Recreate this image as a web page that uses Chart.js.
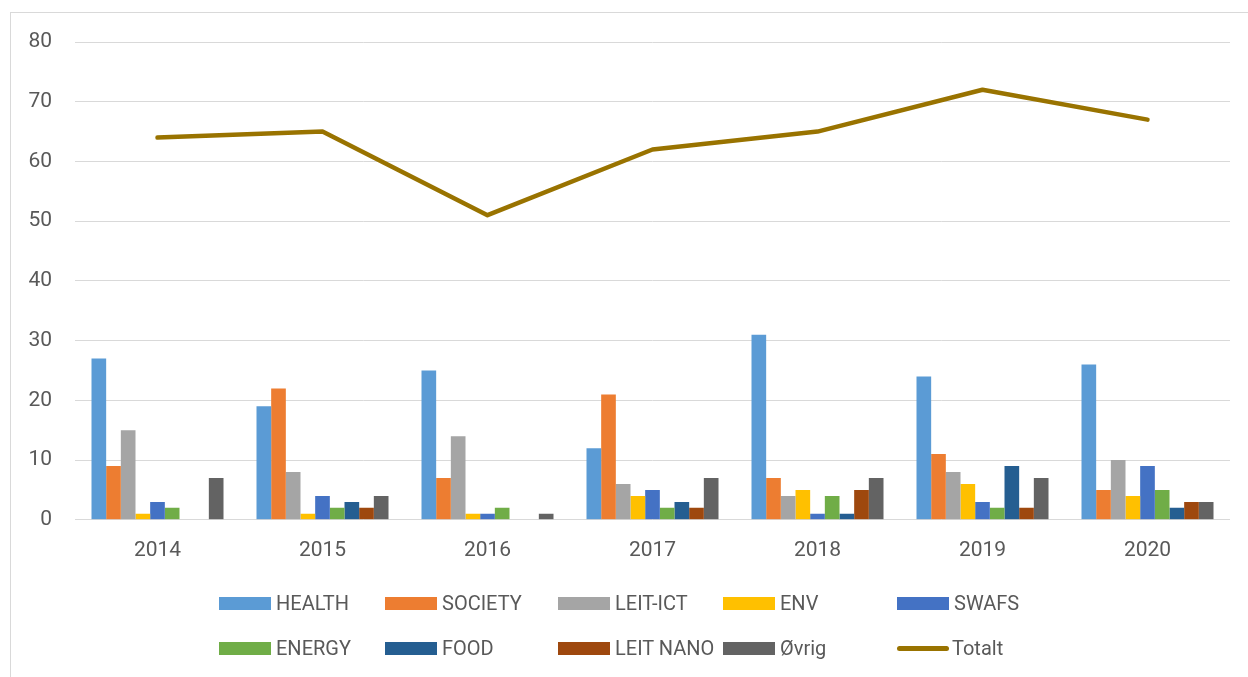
<!DOCTYPE html>
<html>
<head>
<meta charset="utf-8">
<script src="https://cdn.jsdelivr.net/npm/chart.js@4.4.1/dist/chart.umd.min.js"></script>
<style>
  html, body { margin: 0; padding: 0; background: #fff; }
  #wrap { position: relative; width: 1248px; height: 677px; overflow: hidden; }
  #frame { position: absolute; left: 10px; top: 12px; width: 1300px; height: 700px; border: 1px solid #d9d9d9; box-sizing: border-box; }
  canvas { position: absolute; left: 0; top: 0; }
  #legend { position: absolute; left: 0; top: 0; width: 1248px; height: 677px; font-family: Roboto, sans-serif; font-size: 20px; color: #595959; }
  .item { position: absolute; height: 24px; display: flex; align-items: center; white-space: nowrap; }
  .box { width: 52px; height: 13px; margin-right: 5px; }
  .ln { width: 52px; height: 5px; border-radius: 3px; margin-right: 3px; }
</style>
</head>
<body>
<div id="wrap">
  <div id="frame"></div>
  <canvas id="myChart" width="1248" height="677"></canvas>
  <div id="legend"></div>
</div>
<script>
// data
const years = ["2014", "2015", "2016", "2017", "2018", "2019", "2020"];
const health = [27, 19, 25, 12, 31, 24, 26];
const society = [9, 22, 7, 21, 7, 11, 5];
const leitIct = [15, 8, 14, 6, 4, 8, 10];
const env = [1, 1, 1, 4, 5, 6, 4];
const swafs = [3, 4, 1, 5, 1, 3, 9];
const energy = [2, 2, 2, 2, 4, 2, 5];
const food = [0, 3, 0, 3, 1, 9, 2];
const leitNano = [0, 2, 0, 2, 5, 2, 3];
const ovrig = [7, 4, 1, 7, 7, 7, 3];
const totalt = [64, 65, 51, 62, 65, 72, 67];
const yTicks = [0, 10, 20, 30, 40, 50, 60, 70, 80];

const barSeries = [
  ["HEALTH", health, "#5b9bd5"],
  ["SOCIETY", society, "#ed7d31"],
  ["LEIT-ICT", leitIct, "#a5a5a5"],
  ["ENV", env, "#ffc000"],
  ["SWAFS", swafs, "#4472c4"],
  ["ENERGY", energy, "#70ad47"],
  ["FOOD", food, "#255e91"],
  ["LEIT NANO", leitNano, "#9e480e"],
  ["Øvrig", ovrig, "#636363"],
];

const datasets = barSeries.map(s => ({
  type: "bar",
  label: s[0],
  data: s[1],
  backgroundColor: s[2],
  borderWidth: 0,
  categoryPercentage: 0.8,
  barPercentage: 1.0,
  order: 1,
}));
datasets.push({
  type: "line",
  label: "Totalt",
  data: totalt,
  borderColor: "#997300",
  backgroundColor: "#997300",
  borderWidth: 4.5,
  pointRadius: 0,
  tension: 0,
  borderJoinStyle: "round",
  borderCapStyle: "round",
  order: 0,
});

const ctx = document.getElementById("myChart");
new Chart(ctx, {
  type: "bar",
  data: { labels: years, datasets: datasets },
  options: {
    responsive: false,
    animation: false,
    layout: { padding: { top: 42, left: 0, right: 18, bottom: 96 } },
    plugins: { legend: { display: false }, tooltip: { enabled: false } },
    scales: {
      x: {
        grid: { display: false, drawTicks: false },
        border: { display: false },
        ticks: { color: "#595959", font: { family: "Roboto", size: 21 }, padding: 18 },
      },
      y: {
        min: 0,
        max: 80,
        afterFit: s => { s.width = 75; },
        afterBuildTicks: s => { s.ticks = yTicks.map(v => ({ value: v })); },
        grid: { color: "#d9d9d9", lineWidth: 1, drawTicks: false },
        border: { display: false },
        ticks: { color: "#595959", font: { family: "Roboto", size: 21 }, padding: 23 },
      },
    },
  },
});

// legend in 5 columns like the original
const colX = [219, 385, 558, 723, 897];
const rowY = [591, 636];
const legend = document.getElementById("legend");
datasets.forEach((d, i) => {
  const el = document.createElement("div");
  el.className = "item";
  el.style.left = colX[i % 5] + "px";
  el.style.top = rowY[Math.floor(i / 5)] + "px";
  const mark = document.createElement("span");
  mark.className = d.type === "line" ? "ln" : "box";
  mark.style.background = d.type === "line" ? d.borderColor : d.backgroundColor;
  const txt = document.createElement("span");
  txt.textContent = d.label;
  el.appendChild(mark);
  el.appendChild(txt);
  legend.appendChild(el);
});
</script>
</body>
</html>
